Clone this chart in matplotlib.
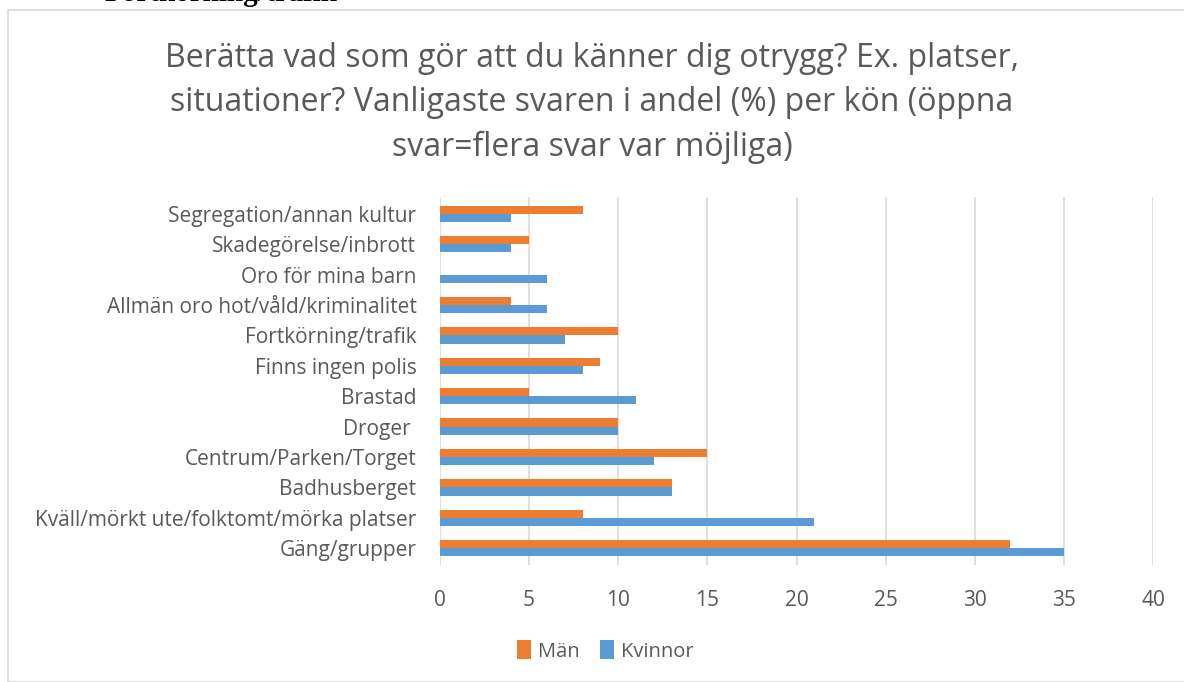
import matplotlib.pyplot as plt
import numpy as np
from matplotlib.patches import Rectangle

categories = ["Gäng/grupper", "Kväll/mörkt ute/folktomt/mörka platser", "Badhusberget",
              "Centrum/Parken/Torget", "Droger ", "Brastad", "Finns ingen polis",
              "Fortkörning/trafik", "Allmän oro hot/våld/kriminalitet", "Oro för mina barn",
              "Skadegörelse/inbrott", "Segregation/annan kultur"]
man = [32, 8, 13, 15, 10, 5, 9, 10, 4, 0, 5, 8]
kvinnor = [35, 21, 13, 12, 10, 11, 8, 7, 6, 6, 4, 4]
xticks = [0, 5, 10, 15, 20, 25, 30, 35, 40]

ORANGE = "#ed7d31"
BLUE = "#5b9bd5"
GREY = "#595959"
FONT = "Open Sans"

fig = plt.figure(figsize=(11.84, 6.82), dpi=100)

# chart frame (cut off at top/right like the screenshot)
fig.patches.append(Rectangle((8 / 1184, 0), 1.2, 1 - 10 / 682, transform=fig.transFigure,
                             fill=False, edgecolor="#d9d9d9", lw=1.2))
# leftover line of the surrounding document, cut by the screenshot edge
fig.text(105 / 1184, 1 - 1 / 682, "Fortkörning/trafik", family="Liberation Serif",
         weight="bold", fontsize=21, va="baseline", ha="left", color="black")

ax = fig.add_axes([440 / 1184, 1 - 565 / 682, 713 / 1184, 368 / 682])
y = np.arange(len(categories))
h = 0.27
ax.barh(y + h / 2, man, height=h, color=ORANGE, label="Män", zorder=3)
ax.barh(y - h / 2, kvinnor, height=h, color=BLUE, label="Kvinnor", zorder=3)

ax.set_xlim(0, 40)
ax.set_ylim(-0.55, len(categories) - 0.45)
ax.set_xticks(xticks)
ax.set_yticks(y)
ax.set_yticklabels(categories)
ax.xaxis.grid(True, color="#d9d9d9", lw=1.2, zorder=0)
for s in ax.spines.values():
    s.set_visible(False)
ax.tick_params(length=0, colors=GREY, labelsize=15)
ax.tick_params(axis="y", pad=17)
ax.tick_params(axis="x", pad=18)
for lbl in ax.get_xticklabels() + ax.get_yticklabels():
    lbl.set_family(FONT)

fig.text(0.5, 1 - 103 / 682,
         "Berätta vad som gör att du känner dig otrygg? Ex. platser,\n"
         "situationer? Vanligaste svaren i andel (%) per kön (öppna\n"
         "svar=flera svar var möjliga)",
         ha="center", va="center", family=FONT, fontsize=23, color=GREY,
         linespacing=1.45)

# square legend markers
leg = fig.legend(loc="center", bbox_to_anchor=(605 / 1184, 1 - 651 / 682), ncol=2,
                 frameon=False, handlelength=0.7, handleheight=1.05, handletextpad=0.35,
                 columnspacing=1.0, prop={"family": FONT, "size": 14.5})
for t in leg.get_texts():
    t.set_color(GREY)

fig.savefig("out.png", dpi=100)
